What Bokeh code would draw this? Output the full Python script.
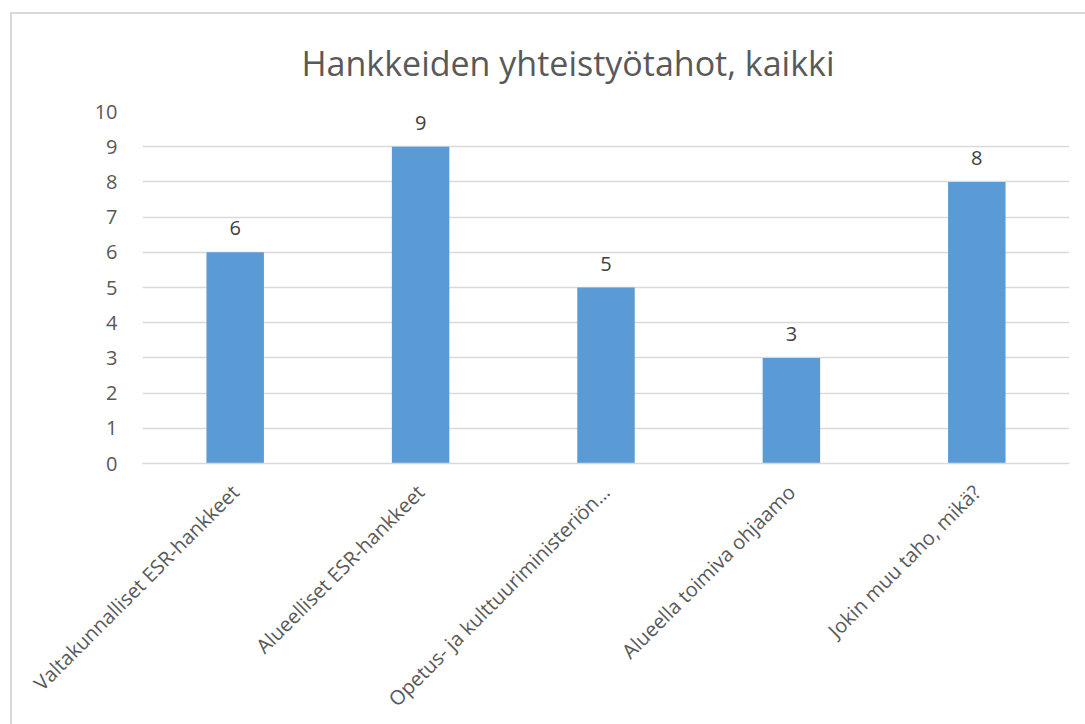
from math import pi
from bokeh.plotting import figure
from bokeh.models import ColumnDataSource, FixedTicker, LabelSet, Range1d, FactorRange
from bokeh.core.properties import value
from bokeh.embed import file_html
from bokeh.resources import INLINE

title = "Hankkeiden yhteistyötahot, kaikki"
categories = [
    "Valtakunnalliset ESR-hankkeet",
    "Alueelliset ESR-hankkeet",
    "Opetus- ja kulttuuriministeriön…",
    "Alueella toimiva ohjaamo",
    "Jokin muu taho, mikä?",
]
values = [6, 9, 5, 3, 8]
y_ticks = [0, 1, 2, 3, 4, 5, 6, 7, 8, 9, 10]

FONT = "Open Sans"
source = ColumnDataSource(dict(cat=categories, val=values, lab=[str(v) for v in values]))

p = figure(
    x_range=FactorRange(*categories, range_padding=0),
    y_range=Range1d(0, 10),
    width=1085, height=724,
    output_backend="svg", toolbar_location=None,
    min_border_left=142, min_border_right=16, min_border_top=111, min_border_bottom=261,
)
p.outline_line_color = None
p.background_fill_color = "white"
p.border_fill_color = None
p.styles = {
    "background": "linear-gradient(#d9d9d9,#d9d9d9) 10px 12px / 1100px 2px no-repeat, "
                  "linear-gradient(#d9d9d9,#d9d9d9) 10px 12px / 2px 800px no-repeat, white",
}

p.title.text = title
p.title.align = "left"
p.title.offset = 159
p.title.standoff = 51
p.title.text_font = FONT
p.title.text_font_size = "34px"
p.title.text_font_style = "normal"
p.title.text_color = "#595959"

p.vbar(x="cat", top="val", width=0.31, source=source, fill_color="#5b9bd5", line_color=None)

labels = LabelSet(x="cat", y="val", text="lab", source=source, text_align="center",
                  text_baseline="alphabetic", y_offset=17, text_font=value(FONT),
                  text_font_size="20px", text_color="#404040")
p.add_layout(labels)

p.yaxis.ticker = FixedTicker(ticks=y_ticks)
p.yaxis.axis_line_color = None
p.yaxis.major_tick_line_color = None
p.yaxis.minor_tick_line_color = None
p.yaxis.major_label_standoff = 19
p.yaxis.major_label_text_font = FONT
p.yaxis.major_label_text_font_size = "20px"
p.yaxis.major_label_text_color = "#595959"

p.xaxis.axis_line_color = "#d9d9d9"
p.xaxis.axis_line_width = 1.5
p.xaxis.major_tick_line_color = None
p.xaxis.minor_tick_line_color = None
p.xaxis.major_label_orientation = pi / 4
p.xaxis.major_label_standoff = 19
p.xaxis.major_label_text_font = FONT
p.xaxis.major_label_text_font_size = "20px"
p.xaxis.major_label_text_color = "#595959"

p.xgrid.grid_line_color = None
p.ygrid.grid_line_color = "#d9d9d9"
p.ygrid.grid_line_width = 1.5

open("out.html", "w").write(file_html(p, INLINE))
